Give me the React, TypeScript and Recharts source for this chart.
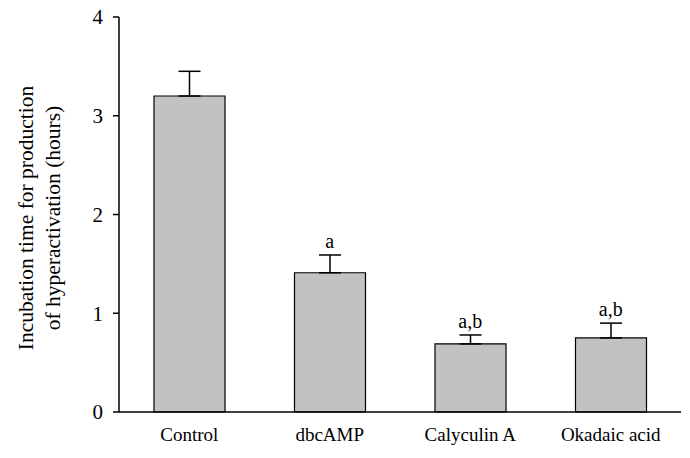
import React from "react";
import {
  BarChart,
  Bar,
  XAxis,
  YAxis,
  ErrorBar,
  ReferenceDot,
} from "recharts";

const categories = ["Control", "dbcAMP", "Calyculin A", "Okadaic acid"];
const means = [3.2, 1.41, 0.69, 0.75];
const sems = [0.25, 0.18, 0.09, 0.15];
const marks = ["", "a", "a,b", "a,b"];
const yTicks = [0, 1, 2, 3, 4];

const data = categories.map((name, i) => ({
  name,
  value: means[i],
  err: [0, sems[i]],
}));

const FONT = "'Liberation Serif', 'Times New Roman', serif";

export default function App() {
  return (
    <div style={{ position: "absolute", left: 0, top: 0, background: "#fff" }}>
      <BarChart
        width={690}
        height={458}
        data={data}
        margin={{ top: 17, right: 9, bottom: 0, left: 0 }}
      >
        <XAxis
          dataKey="name"
          height={46}
          tickLine={false}
          tickSize={0}
          tickMargin={16}
          axisLine={{ stroke: "#000", strokeWidth: 1.5 }}
          tick={{ fill: "#000", fontSize: 19, fontFamily: FONT }}
          interval={0}
        />
        <XAxis
          xAxisId="top"
          dataKey="name"
          orientation="top"
          height={0}
          tick={false}
          tickLine={false}
          axisLine={{ stroke: "#000", strokeWidth: 1.5 }}
        />
        <YAxis
          width={119}
          domain={[0, 4]}
          ticks={yTicks}
          tickSize={6}
          tickMargin={10}
          tickLine={{ stroke: "#000", strokeWidth: 1.5 }}
          axisLine={{ stroke: "#000", strokeWidth: 1.5 }}
          tick={{ fill: "#000", fontSize: 21, fontFamily: FONT }}
          label={{
            content: () => (
              <text
                transform="translate(40 218) rotate(-90)"
                textAnchor="middle"
                fontSize={21.5}
                fontFamily={FONT}
                fill="#000"
              >
                <tspan x={0} y={-7}>Incubation time for production</tspan>
                <tspan x={0} y={20}>of hyperactivation (hours)</tspan>
              </text>
            ),
          }}
        />
        <YAxis
          yAxisId="right"
          orientation="right"
          width={0}
          domain={[0, 4]}
          tick={false}
          tickLine={false}
          axisLine={{ stroke: "#000", strokeWidth: 1.5 }}
        />
        <Bar
          dataKey="value"
          fill="#c2c2c2"
          stroke="#000"
          strokeWidth={1.2}
          barSize={71}
          isAnimationActive={false}
        >
          <ErrorBar
            dataKey="err"
            width={11}
            stroke="#000"
            strokeWidth={1.5}
            direction="y"
          />
        </Bar>
        {categories.map((c, i) =>
          marks[i] ? (
            <ReferenceDot
              key={c}
              x={c}
              y={means[i] + sems[i]}
              r={0}
              fill="none"
              stroke="none"
              label={{
                value: marks[i],
                position: "top",
                offset: 7,
                fill: "#000",
                fontSize: 20,
                fontFamily: FONT,
              }}
            />
          ) : null
        )}
      </BarChart>
    </div>
  );
}
